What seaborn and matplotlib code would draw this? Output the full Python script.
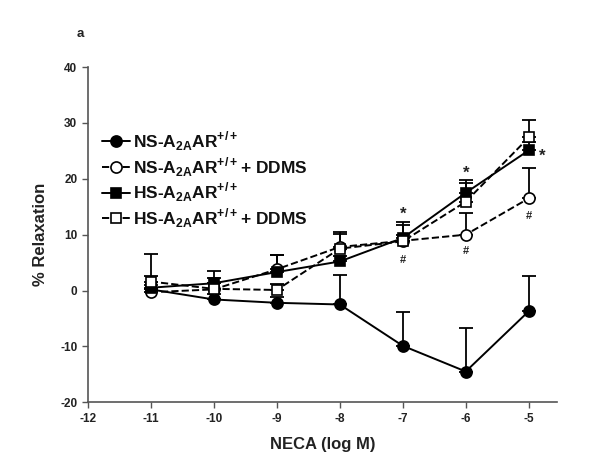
import numpy as np
import pandas as pd
import matplotlib
matplotlib.use('Agg')
import matplotlib.pyplot as plt
import seaborn as sns

# NECA concentration (log M)
neca = [-11, -10, -9, -8, -7, -6, -5]

ns_mean = [0.2, -1.6, -2.2, -2.5, -9.9, -14.5, -3.7]
ns_err = [6.3, 1.0, 1.0, 5.3, 6.0, 7.8, 6.3]

ns_ddms_mean = [-0.3, 0.2, 3.8, 7.8, 8.9, 10.0, 16.5]
ns_ddms_err = [0.5, 3.3, 2.5, 2.7, 1.0, 3.8, 5.4]

hs_mean = [0.5, 1.3, 3.3, 5.2, 9.4, 17.5, 25.1]
hs_err = [0.5, 1.0, 3.0, 1.0, 2.8, 2.3, 1.5]

hs_ddms_mean = [1.6, 0.3, 0.1, 7.5, 8.8, 15.9, 27.4]
hs_ddms_err = [1.0, 1.0, 1.0, 2.6, 2.9, 3.4, 3.1]

labels = [r'NS-A$_{\mathbf{2A}}$AR$^{\mathbf{+/+}}$',
          r'NS-A$_{\mathbf{2A}}$AR$^{\mathbf{+/+}}$+ DDMS',
          r'HS-A$_{\mathbf{2A}}$AR$^{\mathbf{+/+}}$',
          r'HS-A$_{\mathbf{2A}}$AR$^{\mathbf{+/+}}$+ DDMS']

# significance marks
star_x = [-7, -6, -4.78]
star_y = [13.6, 21.0, 24.0]
hash_x = [-7, -6, -5]
hash_y = [5.4, 7.0, 13.4]

sns.set_style('ticks')
plt.rcParams['font.family'] = ['Liberation Sans', 'DejaVu Sans']
plt.rcParams['font.weight'] = 'bold'
plt.rcParams['axes.unicode_minus'] = False
plt.rcParams['mathtext.fontset'] = 'custom'
plt.rcParams['mathtext.bf'] = 'Liberation Sans:bold'
plt.rcParams['mathtext.rm'] = 'Liberation Sans:bold'

fig = plt.figure(figsize=(6.01, 4.76), dpi=100)
ax = fig.add_axes([0.146, 0.155, 0.781, 0.704])

series = [
    (ns_mean, ns_err, 'o', '-', 'black', 8),
    (ns_ddms_mean, ns_ddms_err, 'o', '--', 'white', 8),
    (hs_mean, hs_err, 's', '-', 'black', 7.5),
    (hs_ddms_mean, hs_ddms_err, 's', '--', 'white', 7.5),
]

for (m, e, mk, ls, fc, ms), lab in zip(series, labels):
    ax.errorbar(neca, m, yerr=[np.zeros(len(e)), e], fmt='none',
                ecolor='black', elinewidth=1.3, capsize=5, capthick=1.3, zorder=2)
    sns.lineplot(x=neca, y=m, ax=ax, color='black', linestyle=ls, lw=1.4,
                 marker=mk, markersize=ms, markerfacecolor=fc,
                 markeredgecolor='black', markeredgewidth=1.2, label=lab,
                 zorder=3)

for x, y in zip(star_x, star_y):
    ax.text(x, y, '*', ha='center', va='center', fontsize=12, color='#222222')
for x, y in zip(hash_x, hash_y):
    ax.text(x, y, '#', ha='center', va='center', fontsize=8, color='#222222')

ax.set_xlim(-12, -4.55)
ax.set_ylim(-20, 40)
ax.set_xticks(range(-12, -4))
ax.set_yticks(range(-20, 41, 10))
ax.tick_params(direction='out', length=4, width=1, colors='#555555',
               labelsize=8.5, labelcolor='#222222')
for lab in ax.get_xticklabels() + ax.get_yticklabels():
    lab.set_fontweight('bold')
sns.despine(ax=ax)
for s in ['left', 'bottom']:
    ax.spines[s].set_color('#555555')
    ax.spines[s].set_linewidth(1.2)

ax.set_xlabel('NECA (log M)', fontsize=12, fontweight='bold', color='#222222', labelpad=9)
ax.set_ylabel('% Relaxation', fontsize=12, fontweight='bold', color='#222222', labelpad=9)

fig.text(0.128, 0.922, 'a', fontsize=9.5, fontweight='bold', color='#222222')

leg = ax.legend(loc='upper left', bbox_to_anchor=(0.015, 0.835), frameon=False,
                fontsize=12.5, handlelength=1.6, handletextpad=0.2,
                labelspacing=0.12, borderaxespad=0)
for t in leg.get_texts():
    t.set_fontweight('bold')
    t.set_color('#111111')

fig.savefig('out.png', dpi=100)
